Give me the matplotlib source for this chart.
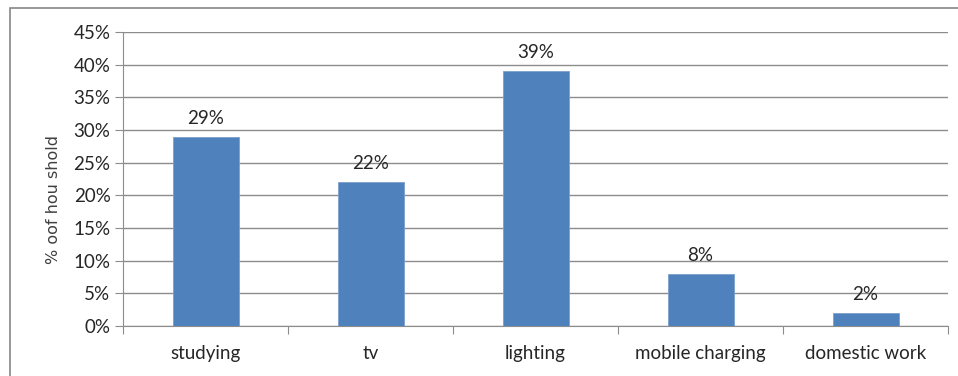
import matplotlib
matplotlib.use('Agg')
from matplotlib import pyplot as plt
from matplotlib.patches import Rectangle

categories = ['studying', 'tv', 'lighting', 'mobile charging', 'domestic work']
values = [29, 22, 39, 8, 2]
yticks = [0, 5, 10, 15, 20, 25, 30, 35, 40, 45]

plt.rcParams['font.family'] = ['Lato', 'DejaVu Sans']

fig = plt.figure(figsize=[9.58, 3.76], dpi=100)
fig.patches.append(Rectangle((10 / 958, -0.1), 1.0, (376 - 8) / 376 + 0.1,
                             transform=fig.transFigure, fill=False,
                             edgecolor='#868686', linewidth=1.2))

ax = fig.add_axes([123 / 958, (376 - 326) / 376, (948 - 123) / 958, (326 - 32) / 376])

x = list(range(len(categories)))
ax.bar(x, values, width=0.4, color='#4F81BD', edgecolor='#7BA0CD', linewidth=0.6, zorder=3)
for xi, v in zip(x, values):
    ax.text(xi, v + 1.5, f'{v}%', ha='center', va='bottom', fontsize=13.5, color='#262626')

ax.set_xlim(-0.5, len(categories) - 0.5)
ax.set_ylim(0, 45)
ax.set_yticks(yticks)
ax.set_yticklabels([f'{t}%' for t in yticks], fontsize=13.5, color='#262626')
ax.yaxis.grid(True, color='#8C8C8C', linewidth=1.0, zorder=0)
ax.tick_params(axis='y', length=6, color='#8C8C8C', pad=3)

ax.set_xticks([i - 0.5 for i in range(len(categories) + 1)])
ax.set_xticklabels([])
ax.set_xticks(x, minor=True)
ax.set_xticklabels(categories, minor=True, fontsize=13.5, color='#262626')
ax.tick_params(axis='x', which='major', length=6, color='#8C8C8C')
ax.tick_params(axis='x', which='minor', length=0, pad=14)

for side in ['top', 'right']:
    ax.spines[side].set_visible(False)
ax.spines['left'].set_color('#8C8C8C')
ax.spines['bottom'].set_color('#8C8C8C')

ax.set_ylabel('% oof hou shold', fontsize=11.5, color='#404040',
              family=['DejaVu Sans'])
ax.yaxis.set_label_coords(-0.075, 0.43)

plt.savefig('out.png', dpi=100)
